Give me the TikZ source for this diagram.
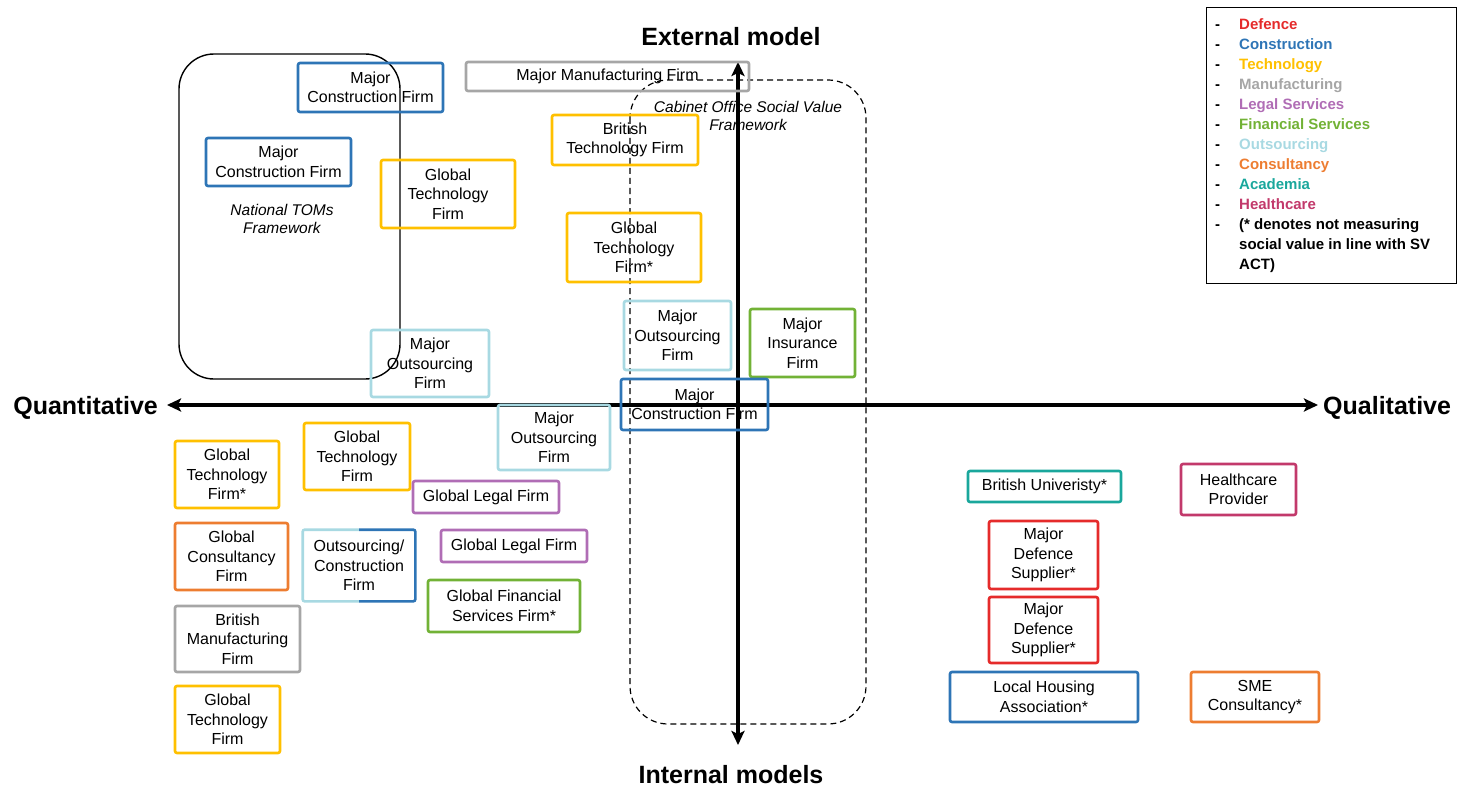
\documentclass[tikz,border=0pt]{standalone}
\usepackage{fontspec}
\setmainfont{Liberation Sans}
\usetikzlibrary{arrows.meta}
\definecolor{cdefence}{HTML}{E52B2B}
\definecolor{cconstr}{HTML}{2E75B6}
\definecolor{ctech}{HTML}{FFC000}
\definecolor{cmanuf}{HTML}{A6A6A6}
\definecolor{clegal}{HTML}{B06DB5}
\definecolor{cfinance}{HTML}{72B236}
\definecolor{coutsrc}{HTML}{A8D9E2}
\definecolor{cconsult}{HTML}{ED7D31}
\definecolor{cacademia}{HTML}{1AA79C}
\definecolor{chealth}{HTML}{C2396B}
\begin{document}
\begin{tikzpicture}[x=1pt, y=-1pt,
		firm/.style={rectangle, rounded corners=2pt, line width=2.6pt, align=center, inner sep=0pt, font=\fontsize{16}{19.5}\selectfont},
		axis/.style={line width=3.5pt, {Stealth[length=14pt,width=13pt,inset=3pt]}-{Stealth[length=14pt,width=13pt,inset=3pt]}},
		axislabel/.style={font=\fontsize{25}{30}\selectfont\bfseries, inner sep=0pt},
		framelabel/.style={align=center, inner sep=0pt, font=\fontsize{15.5}{18.5}\selectfont\itshape}]
		\useasboundingbox (0,0) rectangle (1473,789);
		% frameworks
		\draw[line width=1.4pt, rounded corners=35pt] (179,54) rectangle (400,379);
		\draw[line width=1.2pt, dash pattern=on 6pt off 4pt, rounded corners=38pt] (630,80) rectangle (866,724);
		\node[framelabel] (toms) at (282,219) {National TOMs\\Framework};
		\node[framelabel] (cabinet) at (748,116) {Cabinet Office Social Value\\Framework};
		% axes
		\coordinate (xleft) at (167,405);
		\coordinate (xright) at (1318,405);
		\coordinate (ytop) at (738,62);
		\coordinate (ybottom) at (738,745);
		\draw[axis] (xleft) -- (xright);
		\draw[axis] (ybottom) -- (ytop);
		\node[axislabel, anchor=east] (quant) at (158,408) {Quantitative};
		\node[axislabel, anchor=west] (qual) at (1323,408) {Qualitative};
		\node[axislabel] (ext) at (731,37) {External model};
		\node[axislabel] (int) at (731,775) {Internal models};
		% firms
		\node[firm, draw=cconstr, minimum width=145, minimum height=49] (mcf1) at (370.5,87.5) {Major\\Construction Firm};
		\node[firm, draw=cconstr, minimum width=145, minimum height=48] (mcf2) at (278.5,162) {Major\\Construction Firm};
		\node[firm, draw=ctech, minimum width=134, minimum height=68] (gtf1) at (448,194) {Global\\Technology\\Firm};
		\node[firm, draw=cmanuf, minimum width=283, minimum height=29] (mmf) at (607.5,76.5) {Major Manufacturing Firm};
		\node[firm, draw=ctech, minimum width=146, minimum height=50] (btf) at (625,140) {British\\Technology Firm};
		\node[firm, draw=ctech, minimum width=134, minimum height=69] (gtf2) at (634,247.5) {Global\\Technology\\Firm*};
		\node[firm, draw=coutsrc, minimum width=107, minimum height=69] (mof1) at (677.5,335.5) {Major\\Outsourcing\\Firm};
		\node[firm, draw=cfinance, minimum width=105, minimum height=68] (mif) at (802.5,343) {Major\\Insurance\\Firm};
		\node[firm, draw=coutsrc, minimum width=118, minimum height=67] (mof2) at (430,363.5) {Major\\Outsourcing\\Firm};
		\node[firm, draw=cconstr, minimum width=147, minimum height=51] (mcf3) at (694.5,404.5) {Major\\Construction Firm};
		\node[firm, draw=coutsrc, minimum width=112, minimum height=65] (mof3) at (554,437.5) {Major\\Outsourcing\\Firm};
		\node[firm, draw=ctech, minimum width=106, minimum height=67] (gtf3) at (357,456.5) {Global\\Technology\\Firm};
		\node[firm, draw=ctech, minimum width=104, minimum height=67] (gtf4) at (227,474.5) {Global\\Technology\\Firm*};
		\node[firm, draw=clegal, minimum width=146, minimum height=32] (glf1) at (486,497) {Global Legal Firm};
		\node[firm, draw=clegal, minimum width=146, minimum height=32] (glf2) at (514,546) {Global Legal Firm};
		\node[firm, draw=cconsult, minimum width=113, minimum height=67] (gcf) at (231.5,556.5) {Global\\Consultancy\\Firm};
		\node[firm, minimum width=110, minimum height=69] (ocf) at (359,565.5) {Outsourcing/\\Construction\\Firm};
		\draw[line width=2.6pt, rounded corners=2pt, coutsrc] (ocf.north) -| (ocf.south west) -- (ocf.south);
		\draw[line width=2.6pt, rounded corners=2pt, cconstr] (ocf.north) -| (ocf.south east) -- (ocf.south);
		\node[firm, draw=cfinance, minimum width=152, minimum height=52] (gfsf) at (504,606) {Global Financial\\Services Firm*};
		\node[firm, draw=cmanuf, minimum width=125, minimum height=66] (bmf) at (237.5,639) {British\\Manufacturing\\Firm};
		\node[firm, draw=ctech, minimum width=105, minimum height=67] (gtf5) at (227.5,719.5) {Global\\Technology\\Firm};
		\node[firm, draw=cacademia, minimum width=153, minimum height=31] (bu) at (1044.5,486.5) {British Univeristy*};
		\node[firm, draw=chealth, minimum width=115, minimum height=51] (hp) at (1238.5,489.5) {Healthcare\\Provider};
		\node[firm, draw=cdefence, minimum width=109, minimum height=68] (mds1) at (1043.5,555) {Major\\Defence\\Supplier*};
		\node[firm, draw=cdefence, minimum width=109, minimum height=66] (mds2) at (1043.5,630) {Major\\Defence\\Supplier*};
		\node[firm, draw=cconstr, minimum width=188, minimum height=50] (lha) at (1044,697) {Local Housing\\Association*};
		\node[firm, draw=cconsult, minimum width=128, minimum height=50] (sme) at (1255,697) {SME\\Consultancy*};
		% legend
		\node[draw, line width=1pt, anchor=north west, minimum width=250, minimum height=276, inner sep=0pt] (legendbox) at (1206,7) {};
		\node[anchor=north west, inner sep=0pt, font=\fontsize{15}{20}\selectfont\bfseries] (legend) at (1215,15.5) {%
			\begin{tabular}{@{}l@{\hspace{19pt}}l@{}}
				- & \textcolor{cdefence}{Defence}\\
				- & \textcolor{cconstr}{Construction}\\
				- & \textcolor{ctech}{Technology}\\
				- & \textcolor{cmanuf}{Manufacturing}\\
				- & \textcolor{clegal}{Legal Services}\\
				- & \textcolor{cfinance}{Financial Services}\\
				- & \textcolor{coutsrc}{Outsourcing}\\
				- & \textcolor{cconsult}{Consultancy}\\
				- & \textcolor{cacademia}{Academia}\\
				- & \textcolor{chealth}{Healthcare}\\
				- & (* denotes not measuring\\
				  & social value in line with SV\\
				  & ACT)
			\end{tabular}};
	\end{tikzpicture}
\end{document}
